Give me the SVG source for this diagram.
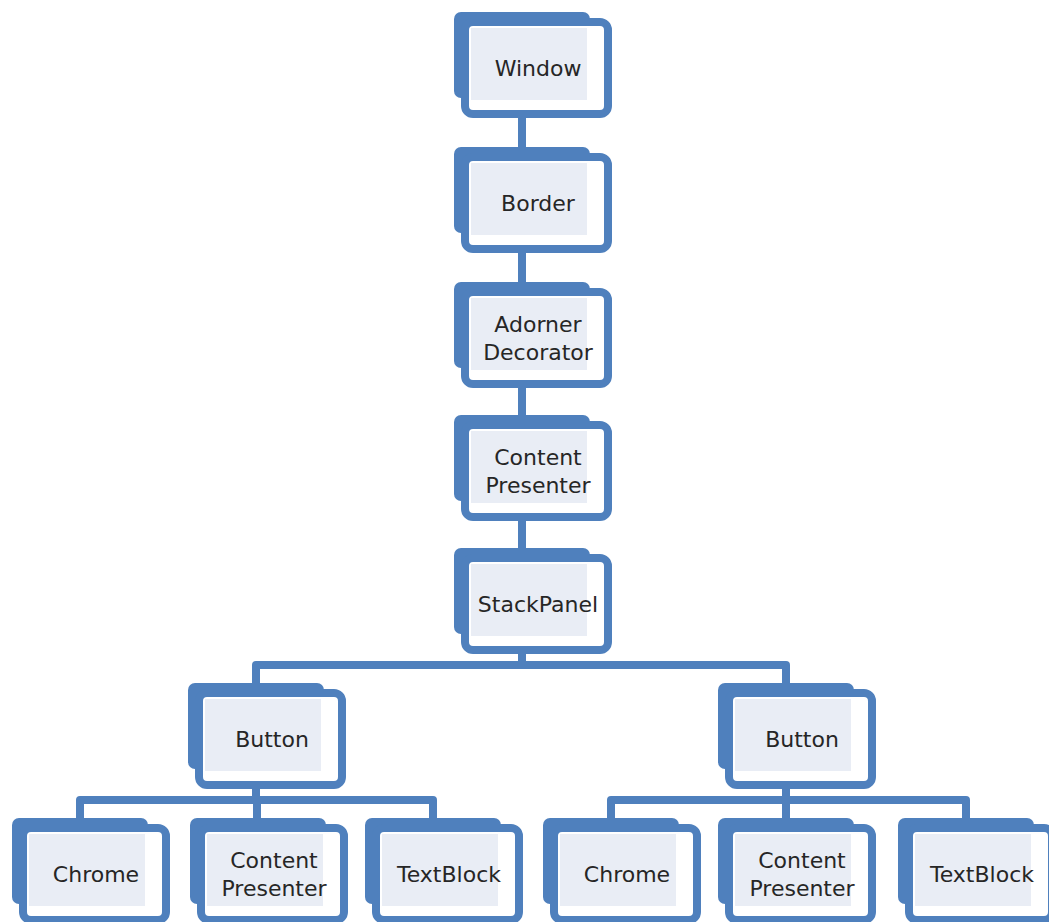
<svg xmlns="http://www.w3.org/2000/svg" width="1049" height="922" viewBox="0 0 1049 922">
  <defs>
    <style>
      .back { fill: #4f80bd; }
      .front { fill: #ffffff; stroke: #4f80bd; stroke-width: 8; }
      .pane { fill: #e9edf5; }
      .label { font-family: "DejaVu Sans", "Noto Sans", sans-serif; font-size: 22px; fill: #262626; text-anchor: middle; dominant-baseline: central; }
      .wire { fill: none; stroke: #4f80bd; stroke-width: 8; stroke-linejoin: round; }
    </style>
    <!-- stacked card shape: a filled card behind, an outlined card in front -->
    <g id="card">
      <rect class="back" x="0" y="0" width="136" height="86" rx="7"/>
      <rect class="front" x="11" y="10" width="143" height="92" rx="8"/>
      <rect class="pane" x="17" y="16" width="116" height="72"/>
    </g>
  </defs>
  <rect width="1049" height="922" fill="#ffffff"/>

  <g id="connectors">
    <line class="wire" x1="522" y1="110" x2="522" y2="560"/>
    <path class="wire" d="M522 640 V665 M256 685 V665 H786 V685"/>
    <path class="wire" d="M256 780 V800 M80 820 V800 H433 V820 M257 800 V820"/>
    <path class="wire" d="M786 780 V800 M611 820 V800 H966 V820 M786 800 V820"/>
  </g>

  <g id="window">
    <use href="#card" x="454" y="12"/>
    <text class="label" x="538" y="68">Window</text>
  </g>
  <g id="border">
    <use href="#card" x="454" y="147"/>
    <text class="label" x="538" y="203">Border</text>
  </g>
  <g id="adorner-decorator">
    <use href="#card" x="454" y="282"/>
    <text class="label" x="538" y="324">Adorner</text>
    <text class="label" x="538" y="352">Decorator</text>
  </g>
  <g id="content-presenter">
    <use href="#card" x="454" y="415"/>
    <text class="label" x="538" y="457">Content</text>
    <text class="label" x="538" y="485">Presenter</text>
  </g>
  <g id="stackpanel">
    <use href="#card" x="454" y="548"/>
    <text class="label" x="538" y="604">StackPanel</text>
  </g>

  <g id="button-left">
    <use href="#card" x="188" y="683"/>
    <text class="label" x="272" y="739">Button</text>
  </g>
  <g id="button-right">
    <use href="#card" x="718" y="683"/>
    <text class="label" x="802" y="739">Button</text>
  </g>

  <g id="chrome-left">
    <use href="#card" x="12" y="818"/>
    <text class="label" x="96" y="874">Chrome</text>
  </g>
  <g id="content-presenter-left">
    <use href="#card" x="190" y="818"/>
    <text class="label" x="274" y="860">Content</text>
    <text class="label" x="274" y="888">Presenter</text>
  </g>
  <g id="textblock-left">
    <use href="#card" x="365" y="818"/>
    <text class="label" x="449" y="874">TextBlock</text>
  </g>

  <g id="chrome-right">
    <use href="#card" x="543" y="818"/>
    <text class="label" x="627" y="874">Chrome</text>
  </g>
  <g id="content-presenter-right">
    <use href="#card" x="718" y="818"/>
    <text class="label" x="802" y="860">Content</text>
    <text class="label" x="802" y="888">Presenter</text>
  </g>
  <g id="textblock-right">
    <use href="#card" x="898" y="818"/>
    <text class="label" x="982" y="874">TextBlock</text>
  </g>
</svg>
